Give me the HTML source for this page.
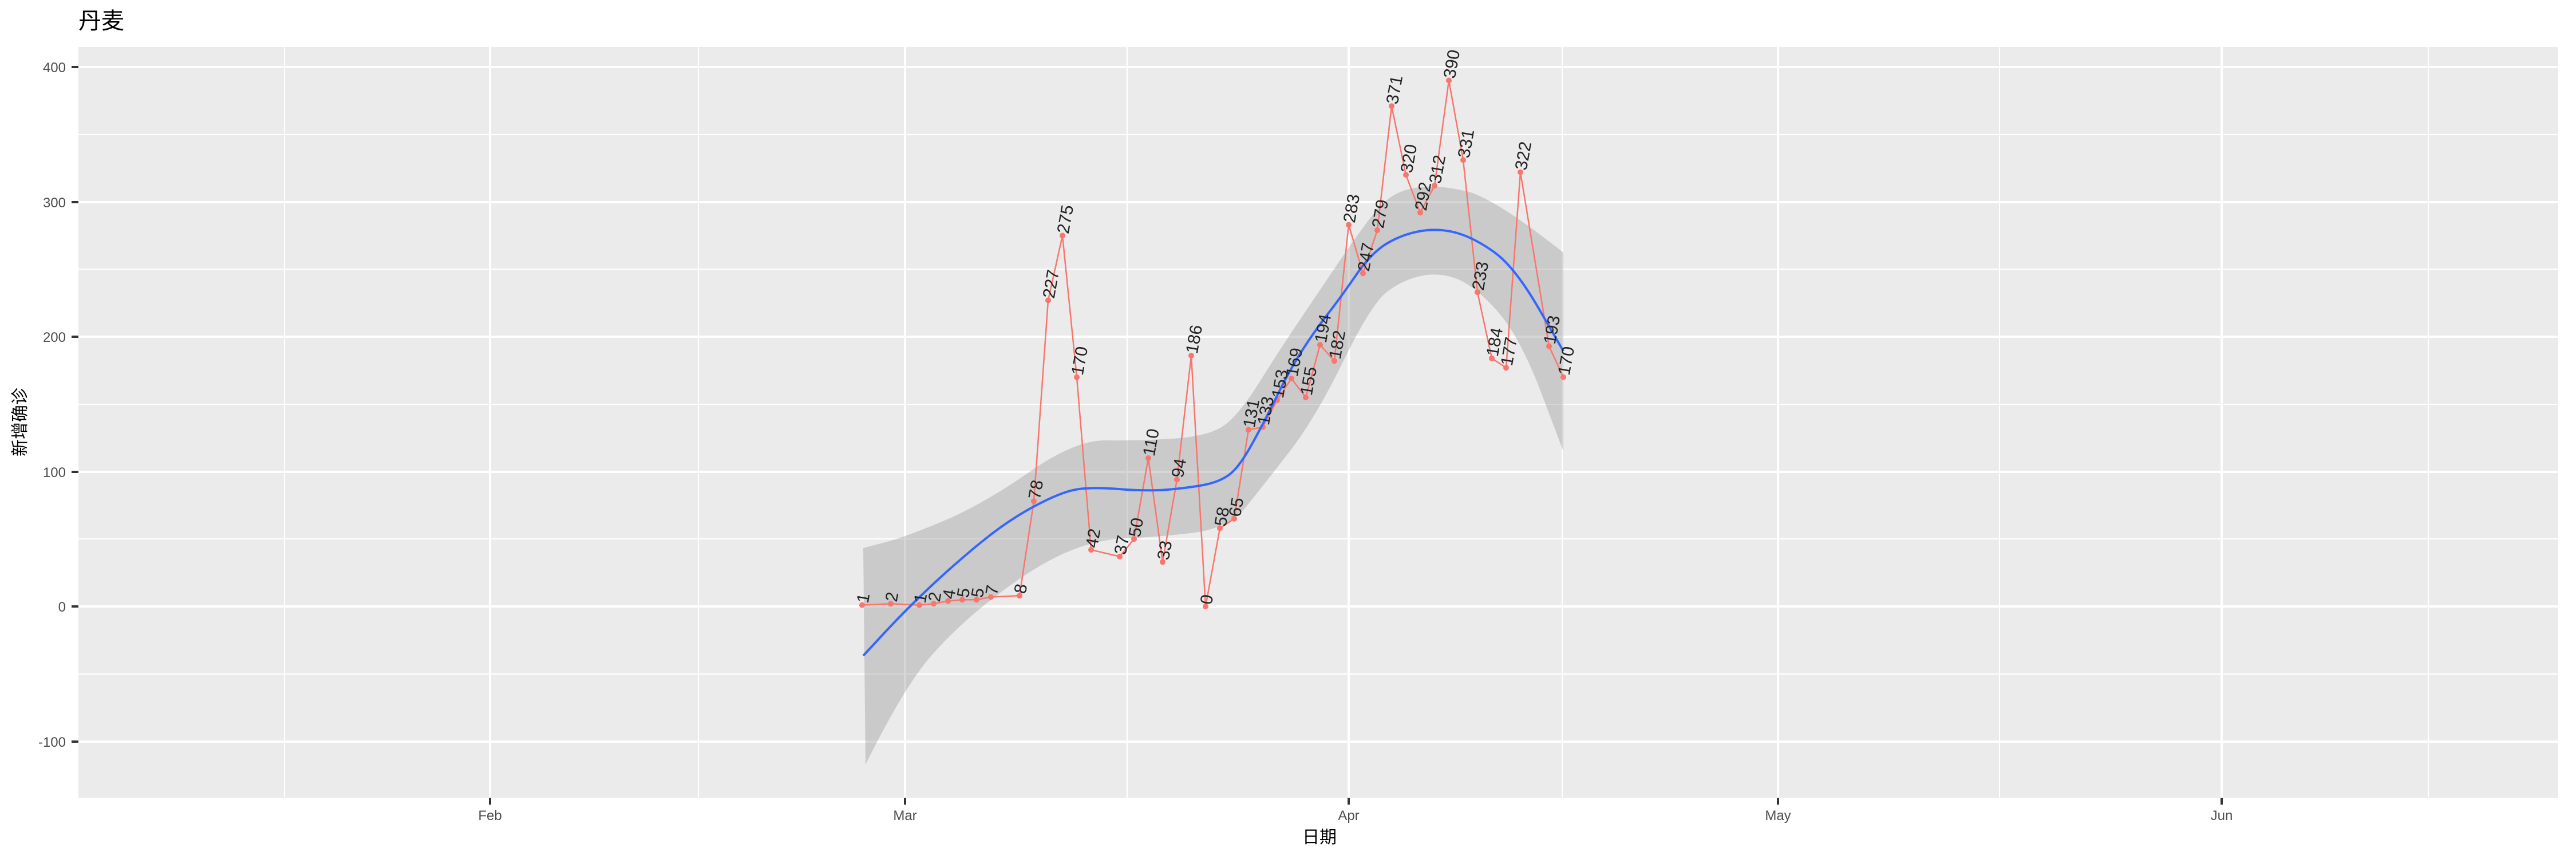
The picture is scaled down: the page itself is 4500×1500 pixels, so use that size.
<!DOCTYPE html>
<html><head><meta charset="utf-8"><style>body{margin:0;background:#fff}svg{display:block}</style></head><body>
<svg width="4500" height="1500" xmlns="http://www.w3.org/2000/svg" font-family="Liberation Sans, Noto Sans CJK SC, sans-serif">
<rect width="4500" height="1500" fill="#fff"/>
<rect x="137" y="82" width="4332" height="1311" fill="#ebebeb"/>
<g stroke="#fff" stroke-width="2">
<line x1="137" x2="4469" y1="235" y2="235"/><line x1="137" x2="4469" y1="470" y2="470"/><line x1="137" x2="4469" y1="706" y2="706"/><line x1="137" x2="4469" y1="941" y2="941"/><line x1="137" x2="4469" y1="1177" y2="1177"/>
<line y1="82" y2="1393" x1="497" x2="497"/><line y1="82" y2="1393" x1="1220" x2="1220"/><line y1="82" y2="1393" x1="1969" x2="1969"/><line y1="82" y2="1393" x1="2729" x2="2729"/><line y1="82" y2="1393" x1="3493" x2="3493"/><line y1="82" y2="1393" x1="4242" x2="4242"/>
</g>
<g stroke="#fff" stroke-width="4">
<line x1="137" x2="4469" y1="117" y2="117"/><line x1="137" x2="4469" y1="353" y2="353"/><line x1="137" x2="4469" y1="588" y2="588"/><line x1="137" x2="4469" y1="824" y2="824"/><line x1="137" x2="4469" y1="1059" y2="1059"/><line x1="137" x2="4469" y1="1295" y2="1295"/>
<line y1="82" y2="1393" x1="856" x2="856"/><line y1="82" y2="1393" x1="1581" x2="1581"/><line y1="82" y2="1393" x1="2356" x2="2356"/><line y1="82" y2="1393" x1="3106" x2="3106"/><line y1="82" y2="1393" x1="3881" x2="3881"/>
</g>
<g stroke="#333" stroke-width="4">
<line x1="125" x2="137" y1="117" y2="117"/><line x1="125" x2="137" y1="353" y2="353"/><line x1="125" x2="137" y1="588" y2="588"/><line x1="125" x2="137" y1="824" y2="824"/><line x1="125" x2="137" y1="1059" y2="1059"/><line x1="125" x2="137" y1="1295" y2="1295"/>
<line y1="1393" y2="1405" x1="856" x2="856"/><line y1="1393" y2="1405" x1="1581" x2="1581"/><line y1="1393" y2="1405" x1="2356" x2="2356"/><line y1="1393" y2="1405" x1="3106" x2="3106"/><line y1="1393" y2="1405" x1="3881" x2="3881"/>
</g>
<g fill="#4d4d4d" font-size="24" text-anchor="end">
<text x="115" y="126">400</text><text x="115" y="362">300</text><text x="115" y="597">200</text><text x="115" y="833">100</text><text x="115" y="1068">0</text><text x="115" y="1304">-100</text>
</g>
<g fill="#4d4d4d" font-size="24" text-anchor="middle">
<text x="856" y="1432">Feb</text><text x="1581" y="1432">Mar</text><text x="2356" y="1432">Apr</text><text x="3106" y="1432">May</text><text x="3881" y="1432">Jun</text>
</g>
<text x="2305" y="1472" font-size="30" text-anchor="middle" fill="#000">日期</text>
<text transform="translate(45,737) rotate(-90)" font-size="30" text-anchor="middle" fill="#000">新增确诊</text>
<text x="137" y="50" font-size="40" fill="#000">丹麦</text>
<path d="M1508,957 L1546,947 Q1584,937 1651,908.5 Q1718,880 1798.5,824 Q1879,768 1932.5,769 Q1986,770 2048.5,766 Q2111,762 2137.5,743.5 Q2164,725 2200,667.5 Q2236,610 2267,564 Q2298,518 2338.5,458 Q2379,398 2405.5,366 Q2432,334 2472.5,328 Q2513,322 2562,334 Q2611,346 2731,441 L2731,788 L2693,687.5 Q2655,587 2615,542.5 Q2575,498 2544,486.5 Q2513,475 2481.5,482 Q2450,489 2423,509.5 Q2396,530 2347,630 Q2298,730 2253.5,787.5 Q2209,845 2177.5,884 Q2146,923 2083.5,930.5 Q2021,938 1967.5,940 Q1914,942 1860.5,965.5 Q1807,989 1740,1040.5 Q1673,1092 1626,1146 Q1579,1200 1512,1335 Z" fill="#999" fill-opacity="0.4"/>
<polyline fill="none" stroke="#f8766d" stroke-width="2.5" points="1506,1056.6 1556,1054.3 1606,1056.6 1631,1054.3 1656,1049.6 1681,1047.2 1706,1047.2 1731,1042.5 1781,1040.2 1806,875.3 1831,524.4 1856,411.4 1881,658.6 1906,960.1 1956,971.9 1981,941.3 2006,800 2031,981.3 2056,837.6 2081,621 2106,1059 2131,922.4 2156,905.9 2181,750.5 2206,745.8 2231,698.7 2256,661 2281,694 2306,602.1 2331,630.4 2356,392.5 2381,477.3 2406,402 2431,185.3 2456,305.4 2481,371.3 2506,324.2 2531,140.5 2556,279.5 2581,510.3 2606,625.7 2631,642.2 2656,300.7 2706,604.5 2731,658.6"/>
<g fill="#f8766d">
<circle cx="1506" cy="1056.6" r="5"/><circle cx="1556" cy="1054.3" r="5"/><circle cx="1606" cy="1056.6" r="5"/><circle cx="1631" cy="1054.3" r="5"/><circle cx="1656" cy="1049.6" r="5"/><circle cx="1681" cy="1047.2" r="5"/><circle cx="1706" cy="1047.2" r="5"/><circle cx="1731" cy="1042.5" r="5"/><circle cx="1781" cy="1040.2" r="5"/><circle cx="1806" cy="875.3" r="5"/><circle cx="1831" cy="524.4" r="5"/><circle cx="1856" cy="411.4" r="5"/><circle cx="1881" cy="658.6" r="5"/><circle cx="1906" cy="960.1" r="5"/><circle cx="1956" cy="971.9" r="5"/><circle cx="1981" cy="941.3" r="5"/><circle cx="2006" cy="800" r="5"/><circle cx="2031" cy="981.3" r="5"/><circle cx="2056" cy="837.6" r="5"/><circle cx="2081" cy="621" r="5"/><circle cx="2106" cy="1059" r="5"/><circle cx="2131" cy="922.4" r="5"/><circle cx="2156" cy="905.9" r="5"/><circle cx="2181" cy="750.5" r="5"/><circle cx="2206" cy="745.8" r="5"/><circle cx="2231" cy="698.7" r="5"/><circle cx="2256" cy="661" r="5"/><circle cx="2281" cy="694" r="5"/><circle cx="2306" cy="602.1" r="5"/><circle cx="2331" cy="630.4" r="5"/><circle cx="2356" cy="392.5" r="5"/><circle cx="2381" cy="477.3" r="5"/><circle cx="2406" cy="402" r="5"/><circle cx="2431" cy="185.3" r="5"/><circle cx="2456" cy="305.4" r="5"/><circle cx="2481" cy="371.3" r="5"/><circle cx="2506" cy="324.2" r="5"/><circle cx="2531" cy="140.5" r="5"/><circle cx="2556" cy="279.5" r="5"/><circle cx="2581" cy="510.3" r="5"/><circle cx="2606" cy="625.7" r="5"/><circle cx="2631" cy="642.2" r="5"/><circle cx="2656" cy="300.7" r="5"/><circle cx="2706" cy="604.5" r="5"/><circle cx="2731" cy="658.6" r="5"/>
</g>
<path fill="none" stroke="#3366ff" stroke-width="4" d="M1508,1145 L1546,1104 Q1584,1063 1628.5,1021.5 Q1673,980 1717.5,944 Q1762,908 1807,884 Q1852,860 1878.5,855 Q1905,850 1954.5,854 Q2004,858 2039.5,855 Q2075,852 2102,847 Q2129,842 2146.5,829.5 Q2164,817 2186.5,776.5 Q2209,736 2231.5,690 Q2254,644 2276,610 Q2298,576 2320.5,547 Q2343,518 2369.5,479.5 Q2396,441 2423,425 Q2450,409 2481.5,403.5 Q2513,398 2544,406.5 Q2575,415 2610.5,440.5 Q2646,466 2688.5,539.5 L2731,613"/>
<g fill="#222" font-size="30">
<text transform="translate(1506,1056.6) rotate(-80)" x="4" y="10">1</text>
<text transform="translate(1556,1054.3) rotate(-80)" x="4" y="10">2</text>
<text transform="translate(1606,1056.6) rotate(-80)" x="4" y="10">1</text>
<text transform="translate(1631,1054.3) rotate(-80)" x="4" y="10">2</text>
<text transform="translate(1656,1049.6) rotate(-80)" x="4" y="10">4</text>
<text transform="translate(1681,1047.2) rotate(-80)" x="4" y="10">5</text>
<text transform="translate(1706,1047.2) rotate(-80)" x="4" y="10">5</text>
<text transform="translate(1731,1042.5) rotate(-80)" x="4" y="10">7</text>
<text transform="translate(1781,1040.2) rotate(-80)" x="4" y="10">8</text>
<text transform="translate(1806,875.3) rotate(-80)" x="4" y="10">78</text>
<text transform="translate(1831,524.4) rotate(-80)" x="4" y="10">227</text>
<text transform="translate(1856,411.4) rotate(-80)" x="4" y="10">275</text>
<text transform="translate(1881,658.6) rotate(-80)" x="4" y="10">170</text>
<text transform="translate(1906,960.1) rotate(-80)" x="4" y="10">42</text>
<text transform="translate(1956,971.9) rotate(-80)" x="4" y="10">37</text>
<text transform="translate(1981,941.3) rotate(-80)" x="4" y="10">50</text>
<text transform="translate(2006,800) rotate(-80)" x="4" y="10">110</text>
<text transform="translate(2031,981.3) rotate(-80)" x="4" y="10">33</text>
<text transform="translate(2056,837.6) rotate(-80)" x="4" y="10">94</text>
<text transform="translate(2081,621) rotate(-80)" x="4" y="10">186</text>
<text transform="translate(2106,1059) rotate(-80)" x="4" y="10">0</text>
<text transform="translate(2131,922.4) rotate(-80)" x="4" y="10">58</text>
<text transform="translate(2156,905.9) rotate(-80)" x="4" y="10">65</text>
<text transform="translate(2181,750.5) rotate(-80)" x="4" y="10">131</text>
<text transform="translate(2206,745.8) rotate(-80)" x="4" y="10">133</text>
<text transform="translate(2231,698.7) rotate(-80)" x="4" y="10">153</text>
<text transform="translate(2256,661) rotate(-80)" x="4" y="10">169</text>
<text transform="translate(2281,694) rotate(-80)" x="4" y="10">155</text>
<text transform="translate(2306,602.1) rotate(-80)" x="4" y="10">194</text>
<text transform="translate(2331,630.4) rotate(-80)" x="4" y="10">182</text>
<text transform="translate(2356,392.5) rotate(-80)" x="4" y="10">283</text>
<text transform="translate(2381,477.3) rotate(-80)" x="4" y="10">247</text>
<text transform="translate(2406,402) rotate(-80)" x="4" y="10">279</text>
<text transform="translate(2431,185.3) rotate(-80)" x="4" y="10">371</text>
<text transform="translate(2456,305.4) rotate(-80)" x="4" y="10">320</text>
<text transform="translate(2481,371.3) rotate(-80)" x="4" y="10">292</text>
<text transform="translate(2506,324.2) rotate(-80)" x="4" y="10">312</text>
<text transform="translate(2531,140.5) rotate(-80)" x="4" y="10">390</text>
<text transform="translate(2556,279.5) rotate(-80)" x="4" y="10">331</text>
<text transform="translate(2581,510.3) rotate(-80)" x="4" y="10">233</text>
<text transform="translate(2606,625.7) rotate(-80)" x="4" y="10">184</text>
<text transform="translate(2631,642.2) rotate(-80)" x="4" y="10">177</text>
<text transform="translate(2656,300.7) rotate(-80)" x="4" y="10">322</text>
<text transform="translate(2706,604.5) rotate(-80)" x="4" y="10">193</text>
<text transform="translate(2731,658.6) rotate(-80)" x="4" y="10">170</text>
</g>
</svg>
</body></html>
